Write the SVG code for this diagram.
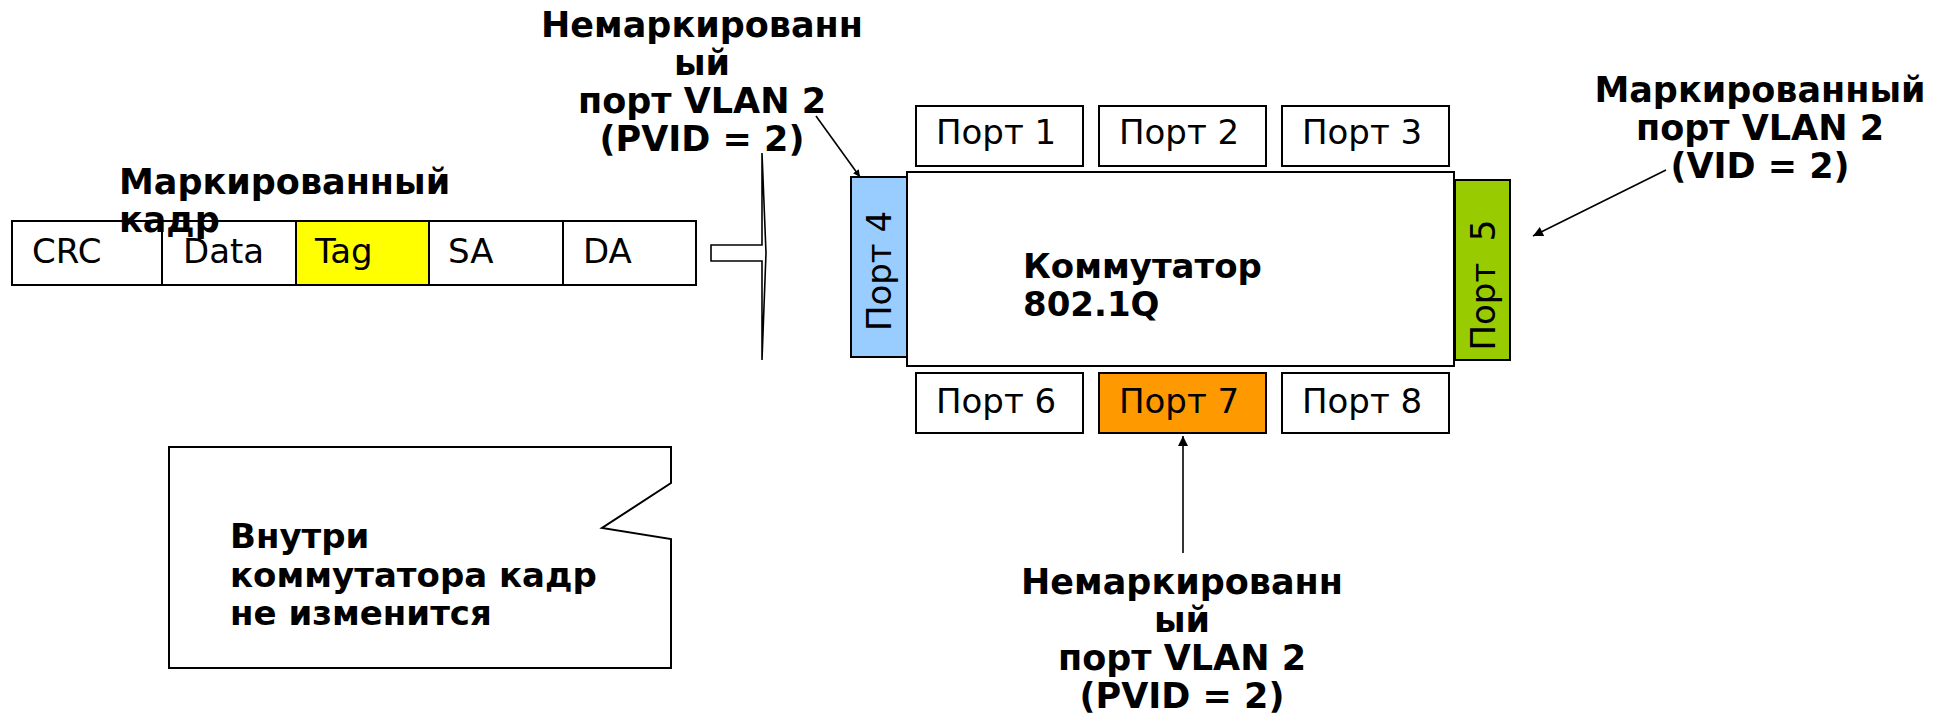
<svg xmlns="http://www.w3.org/2000/svg" width="1942" height="714" viewBox="0 0 1942 714">
<style>
.box{stroke:#000;stroke-width:2;fill:#fff}
.t{font-family:"DejaVu Sans","Verdana",sans-serif;font-size:34px;fill:#000}
.b{font-family:"DejaVu Sans","Verdana",sans-serif;font-size:34px;font-weight:bold;fill:#000}
.l{font-size:35px}
.c{stroke:#000;stroke-width:1.6;fill:none}
</style>
<defs>
<marker id="ah" viewBox="0 0 10 10" refX="10" refY="5" markerWidth="7" markerHeight="7" markerUnits="userSpaceOnUse" orient="auto"><path d="M0,0 L10,5 L0,10 z" fill="#000"/></marker>
<marker id="ah2" viewBox="0 0 10 10" refX="10" refY="5" markerWidth="12" markerHeight="10" markerUnits="userSpaceOnUse" orient="auto"><path d="M0,0 L10,5 L0,10 z" fill="#000"/></marker>
</defs>
<rect width="1942" height="714" fill="#fff"/>

<g id="frame">
<rect class="box" x="12" y="221" width="150" height="64"/>
<rect class="box" x="162" y="221" width="134" height="64"/>
<rect class="box" x="296" y="221" width="133" height="64" style="fill:#ffff00"/>
<rect class="box" x="429" y="221" width="134" height="64"/>
<rect class="box" x="563" y="221" width="133" height="64"/>
<text class="t" x="32" y="263">CRC</text>
<text class="t" x="183" y="263">Data</text>
<text class="t" x="315" y="263">Tag</text>
<text class="t" x="448" y="263">SA</text>
<text class="t" x="583" y="263">DA</text>
</g>
<g id="frame-label">
<text class="b l" x="119" y="194">Маркированный</text>
<text class="b l" x="119" y="232">кадр</text>
</g>

<g id="block-arrow">
<polygon points="711,245 762,245 762,153 766,253 762,360 762,261 711,261" fill="#fff" stroke="#000" stroke-width="1.6"/>
</g>

<g id="switch">
<rect class="box" x="907" y="172" width="547" height="194"/>
<text class="b" x="1023" y="278">Коммутатор</text>
<text class="b" x="1023" y="316">802.1Q</text>
</g>
<g id="port1"><rect class="box" x="916" y="106" width="167" height="60"/><text class="t" x="936" y="144">Порт 1</text></g>
<g id="port2"><rect class="box" x="1099" y="106" width="167" height="60"/><text class="t" x="1119" y="144">Порт 2</text></g>
<g id="port3"><rect class="box" x="1282" y="106" width="167" height="60"/><text class="t" x="1302" y="144">Порт 3</text></g>
<g id="port4"><rect class="box" x="851" y="177" width="56" height="180" style="fill:#99ccff"/><text class="t" text-anchor="middle" transform="translate(891,271) rotate(-90)">Порт 4</text></g>
<g id="port5"><rect class="box" x="1455" y="180" width="55" height="180" style="fill:#99cc00"/><text class="t" text-anchor="middle" xml:space="preserve" transform="translate(1495,285) rotate(-90)">Порт  5</text></g>
<g id="port6"><rect class="box" x="916" y="373" width="167" height="60"/><text class="t" x="936" y="413">Порт 6</text></g>
<g id="port7"><rect class="box" x="1099" y="373" width="167" height="60" style="fill:#ff9900"/><text class="t" x="1119" y="413">Порт 7</text></g>
<g id="port8"><rect class="box" x="1282" y="373" width="167" height="60"/><text class="t" x="1302" y="413">Порт 8</text></g>

<g id="label-top" text-anchor="middle">
<text class="b l" x="702" y="37">Немаркированн</text>
<text class="b l" x="702" y="75">ый</text>
<text class="b l" x="702" y="113">порт VLAN 2</text>
<text class="b l" x="702" y="151">(PVID = 2)</text>
</g>
<g id="label-right" text-anchor="middle">
<text class="b l" x="1760" y="102">Маркированный</text>
<text class="b l" x="1760" y="140">порт VLAN 2</text>
<text class="b l" x="1760" y="178">(VID = 2)</text>
</g>
<g id="label-bottom" text-anchor="middle">
<text class="b l" x="1182" y="594">Немаркированн</text>
<text class="b l" x="1182" y="632">ый</text>
<text class="b l" x="1182" y="670">порт VLAN 2</text>
<text class="b l" x="1182" y="708">(PVID = 2)</text>
</g>

<g id="callout">
<path d="M169,447 L671,447 L671,483 L602,528 L671,539 L671,668 L169,668 Z" fill="#fff" stroke="#000" stroke-width="2"/>
<text class="b" x="230" y="548">Внутри</text>
<text class="b" x="230" y="587">коммутатора кадр</text>
<text class="b" x="230" y="625">не изменится</text>
</g>

<g id="connectors">
<line class="c" x1="816" y1="116" x2="860" y2="177" marker-end="url(#ah)"/>
<line class="c" x1="1666" y1="170" x2="1533" y2="236" marker-end="url(#ah2)"/>
<line class="c" x1="1183" y1="553" x2="1183" y2="436" marker-end="url(#ah2)"/>
</g>
</svg>
